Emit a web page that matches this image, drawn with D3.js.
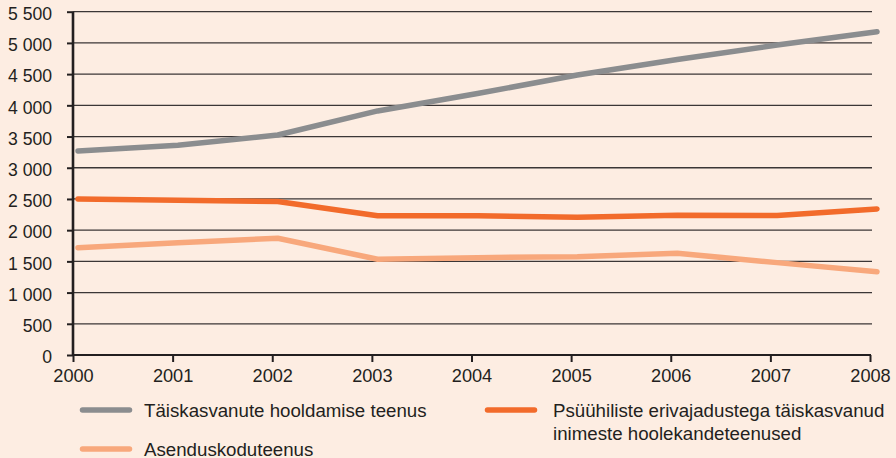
<!DOCTYPE html>
<html>
<head>
<meta charset="utf-8">
<script src="https://cdn.jsdelivr.net/npm/d3@7"></script>
<style>
  html, body { margin: 0; padding: 0; background: #fdede2; }
  svg { display: block; }
  text { font-family: "Liberation Sans", Arial, sans-serif; fill: #231f20; }
</style>
</head>
<body>
<svg id="chart" width="896" height="458"></svg>
<script>
// Years on the x axis
const years = [2000, 2001, 2002, 2003, 2004, 2005, 2006, 2007, 2008];

// Number of service users per year
const hooldamine = [3270, 3360, 3525, 3910, 4190, 4485, 4735, 4965, 5180];
const erivajadused = [2500, 2480, 2460, 2232, 2232, 2205, 2240, 2235, 2340];
const asenduskodu = [1720, 1800, 1870, 1535, 1560, 1575, 1630, 1480, 1335];

// Y axis ticks
const yTicks = [0, 500, 1000, 1500, 2000, 2500, 3000, 3500, 4000, 4500, 5000, 5500];

const seriesNames = [
  "Täiskasvanute hooldamise teenus",
  "Psüühiliste erivajadustega täiskasvanud inimeste hoolekandeteenused",
  "Asenduskoduteenus"
];
const seriesColors = ["#8b8d8f", "#f26b2b", "#f8a87c"];
const seriesValues = [hooldamine, erivajadused, asenduskodu];

const svg = d3.select("#chart");

const plotLeft = 73, plotRight = 870, plotTop = 11.7, plotBottom = 355;

const x = d3.scaleLinear().domain([2000, 2008]).range([plotLeft, plotRight]);
// data points sit slightly right of the year ticks
const xPt = d3.scaleLinear().domain([2000, 2008]).range([plotLeft + 5, plotRight + 7]);
const y = d3.scaleLinear().domain([0, 5500]).range([plotBottom, plotTop]);

const locale = d3.formatLocale({ decimal: ",", thousands: "\u00a0", grouping: [3], currency: ["", ""] });
const fmt = locale.format(",d");

// horizontal grid
svg.append("g")
  .selectAll("line")
  .data(yTicks.filter(d => d > 0))
  .join("line")
  .attr("x1", plotLeft)
  .attr("x2", plotRight + 2)
  .attr("y1", d => y(d))
  .attr("y2", d => y(d))
  .attr("stroke", "#3b3636")
  .attr("stroke-width", 1.3);

// y axis
const yAxis = svg.append("g")
  .attr("transform", `translate(${plotLeft},0)`)
  .call(d3.axisLeft(y).tickValues(yTicks).tickSize(6).tickPadding(15).tickFormat(fmt));
yAxis.select(".domain").attr("stroke", "#231f20").attr("stroke-width", 2.6)
  .attr("d", `M0,${plotTop}V${plotBottom}`);
yAxis.selectAll(".tick line").attr("stroke", "#231f20").attr("stroke-width", 2);
yAxis.selectAll(".tick text")
  .style("font-size", "17.6px")
  .attr("dy", "0.44em")
  .attr("font-family", null)
  .attr("fill", "#231f20");

// x axis
const xAxis = svg.append("g")
  .attr("transform", `translate(0,${plotBottom})`)
  .call(d3.axisBottom(x).tickValues(years).tickSize(7).tickPadding(7.5).tickFormat(d3.format("d")));
xAxis.select(".domain").attr("stroke", "#231f20").attr("stroke-width", 2)
  .attr("d", `M${plotLeft},0H${plotRight + 1}`);
xAxis.selectAll(".tick line").attr("stroke", "#231f20").attr("stroke-width", 2);
xAxis.selectAll(".tick text")
  .style("font-size", "18.2px")
  .attr("font-family", null)
  .attr("fill", "#231f20");

// series lines
const line = d3.line()
  .x((d, i) => xPt(years[i]))
  .y(d => y(d));

svg.append("g")
  .selectAll("path")
  .data(seriesValues)
  .join("path")
  .attr("d", d => line(d))
  .attr("fill", "none")
  .attr("stroke", (d, i) => seriesColors[i])
  .attr("stroke-width", 5.5)
  .attr("stroke-linecap", "round")
  .attr("stroke-linejoin", "round");

// legend
const legendItems = [
  { x: 80, y: 410, tx: 64, lines: [seriesNames[0]], color: seriesColors[0] },
  { x: 485, y: 410, tx: 68, lines: ["Psüühiliste erivajadustega täiskasvanud", "inimeste hoolekandeteenused"], color: seriesColors[1] },
  { x: 80, y: 449, tx: 64, lines: [seriesNames[2]], color: seriesColors[2] }
];

const lg = svg.append("g").selectAll("g").data(legendItems).join("g")
  .attr("transform", d => `translate(${d.x},${d.y})`);

lg.append("line")
  .attr("x1", 2.5).attr("x2", 49.5)
  .attr("y1", 0).attr("y2", 0)
  .attr("stroke", d => d.color)
  .attr("stroke-width", 5.5)
  .attr("stroke-linecap", "round");

lg.append("text")
  .attr("y", 6.8)
  .style("font-size", "18.7px")
  .each(function (d) {
    d3.select(this).selectAll("tspan")
      .data(d.lines)
      .join("tspan")
      .attr("x", d.tx)
      .attr("dy", (t, i) => i === 0 ? 0 : 23.3)
      .text(t => t);
  });
</script>
</body>
</html>
